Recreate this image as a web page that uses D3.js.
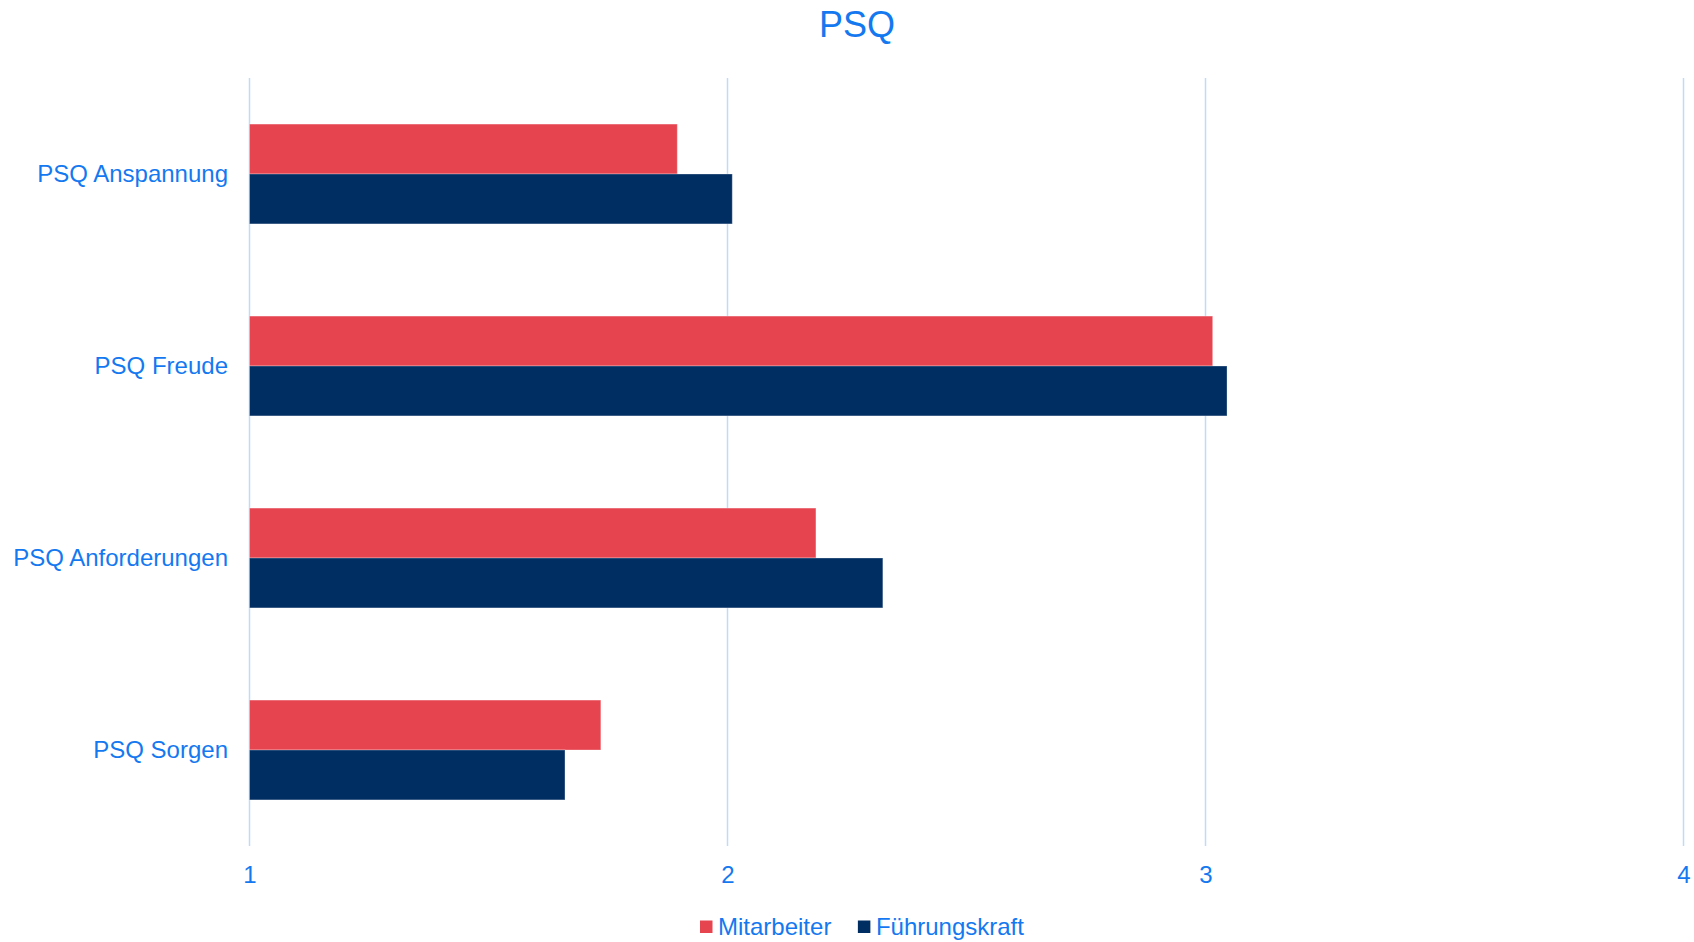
<!DOCTYPE html>
<html>
<head>
<meta charset="utf-8">
<script src="https://cdn.jsdelivr.net/npm/d3@7"></script>
<style>
  html, body { margin: 0; padding: 0; background: #ffffff; }
  svg { display: block; font-family: "Liberation Sans", Arial, sans-serif; }
</style>
</head>
<body>
<svg id="chart" width="1694" height="942"></svg>
<script>
const title = "PSQ";
const categories = ["PSQ Anspannung", "PSQ Freude", "PSQ Anforderungen", "PSQ Sorgen"];
const seriesNames = ["Mitarbeiter", "Führungskraft"];
const mitarbeiter = [1.895, 3.015, 2.185, 1.735];
const fuehrungskraft = [2.01, 3.045, 2.325, 1.66];
const xTicks = [1, 2, 3, 4];
const seriesColors = ["#E64550", "#002D62"];

const textColor = "#1479F0";
const gridColor = "#C2DAF7";

const svg = d3.select("#chart");
const seriesValues = [mitarbeiter, fuehrungskraft];

const x = d3.scaleLinear().domain([1, 4]).range([249.5, 1683.5]);
const y = d3.scaleBand().domain(categories).range([78, 846]).paddingInner(0.48).paddingOuter(0.24);
const ySub = d3.scaleBand().domain(seriesNames).range([0, y.bandwidth()]);

// Title
svg.append("text")
  .attr("x", 857).attr("y", 36.5)
  .attr("text-anchor", "middle")
  .attr("fill", textColor)
  .style("font-size", "36px")
  .text(title);

// Grid lines
svg.append("g").selectAll("line").data(xTicks).join("line")
  .attr("x1", d => x(d)).attr("x2", d => x(d))
  .attr("y1", 78).attr("y2", 846)
  .attr("stroke", gridColor).attr("stroke-width", 1.5);

// Bars
const rows = categories.map((c, i) => ({ cat: c, vals: seriesNames.map((s, j) => ({ s, v: seriesValues[j][i], j })) }));
const g = svg.append("g").selectAll("g").data(rows).join("g")
  .attr("transform", d => `translate(0,${y(d.cat)})`);
g.selectAll("rect").data(d => d.vals).join("rect")
  .attr("x", x(1))
  .attr("y", d => ySub(d.s))
  .attr("width", d => x(d.v) - x(1))
  .attr("height", ySub.bandwidth())
  .attr("fill", d => seriesColors[d.j])
  .attr("stroke", "rgba(255,255,255,0.3)")
  .attr("stroke-width", 1);

// Category axis labels
const yAxis = d3.axisLeft(y).tickSize(0).tickPadding(0);
const yg = svg.append("g").attr("transform", "translate(228,0)").call(yAxis);
yg.select(".domain").remove();
yg.selectAll("text")
  .attr("fill", textColor)
  .attr("dy", "0.35em")
  .style("font-size", "24px")
  .style("font-family", "'Liberation Sans', Arial, sans-serif");

// X axis tick labels
const xAxis = d3.axisBottom(x).tickValues(xTicks).tickFormat(d3.format("d")).tickSize(0).tickPadding(0);
const xg = svg.append("g").attr("transform", "translate(0,883)").call(xAxis);
xg.select(".domain").remove();
xg.selectAll("text")
  .attr("fill", textColor)
  .attr("y", 0).attr("dy", 0)
  .style("font-size", "24px")
  .style("font-family", "'Liberation Sans', Arial, sans-serif");

// Legend
const legend = svg.append("g");
let lx = 700;
seriesNames.forEach((name, j) => {
  legend.append("rect")
    .attr("x", lx).attr("y", 920.5)
    .attr("width", 12.5).attr("height", 12.5)
    .attr("fill", seriesColors[j]);
  const t = legend.append("text")
    .attr("x", lx + 18).attr("y", 935)
    .attr("fill", textColor)
    .style("font-size", "24px")
    .text(name);
  lx = lx + 18 + t.node().getComputedTextLength() + 26.5;
});
</script>
</body>
</html>
